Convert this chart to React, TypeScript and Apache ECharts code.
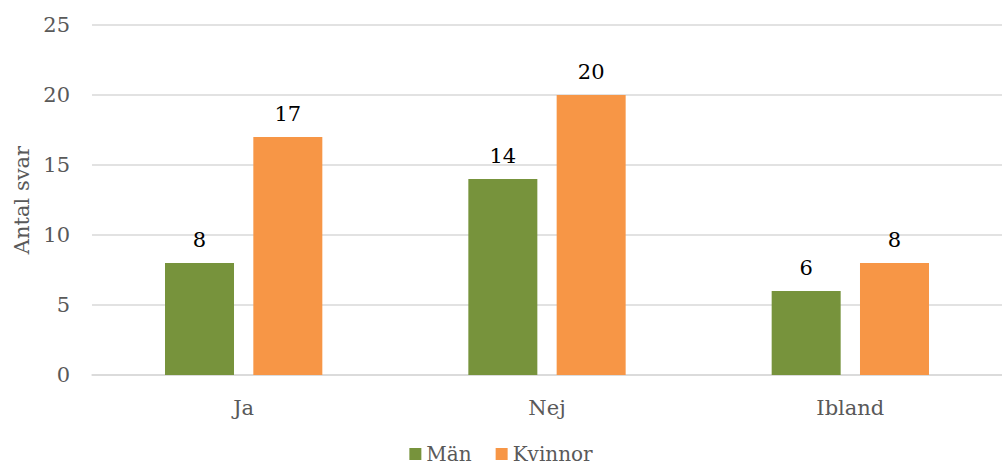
import React, { useEffect, useRef } from "react";
import * as echarts from "echarts";

const categories = ["Ja", "Nej", "Ibland"];
const manValues = [8, 14, 6];
const kvinnorValues = [17, 20, 8];
const seriesNames = ["Män", "Kvinnor"];
const yAxisName = "Antal svar";

const FONT = "DejaVu Serif";

export default function App() {
  const ref = useRef<HTMLDivElement>(null);
  useEffect(() => {
    document.body.style.margin = "0";
    const chart = echarts.init(ref.current!, null, { renderer: "svg" });
    const labelStyle = {
      show: true,
      position: "top" as const,
      distance: 13,
      color: "#000000",
      fontFamily: FONT,
      fontSize: 21,
    };
    chart.setOption({
      animation: false,
      backgroundColor: "#ffffff",
      textStyle: { fontFamily: FONT },
      grid: { left: 92, top: 25, right: -11, bottom: 90, containLabel: false },
      legend: {
        data: seriesNames,
        top: 439,
        left: "center",
        itemWidth: 12,
        itemHeight: 12,
        itemGap: 24,
        icon: "rect",
        textStyle: { color: "#595959", fontFamily: FONT, fontSize: 20 },
      },
      xAxis: {
        type: "category",
        data: categories,
        axisLine: { show: true, lineStyle: { color: "#d9d9d9", width: 1.5 } },
        axisTick: { show: false },
        axisLabel: { color: "#595959", fontFamily: FONT, fontSize: 21, margin: 22 },
      },
      yAxis: {
        type: "value",
        min: 0,
        max: 25,
        interval: 5,
        name: yAxisName,
        nameLocation: "middle",
        nameGap: 60,
        nameTextStyle: { color: "#595959", fontFamily: FONT, fontSize: 21 },
        axisLine: { show: false },
        axisTick: { show: false },
        axisLabel: { color: "#595959", fontFamily: FONT, fontSize: 21, margin: 22 },
        splitLine: { lineStyle: { color: "#d9d9d9", width: 1.5 } },
      },
      series: [
        {
          name: seriesNames[0],
          type: "bar",
          data: manValues,
          barWidth: 69,
          barGap: "28%",
          itemStyle: { color: "#77933C" },
          label: labelStyle,
        },
        {
          name: seriesNames[1],
          type: "bar",
          data: kvinnorValues,
          barWidth: 69,
          barGap: "28%",
          itemStyle: { color: "#F79646" },
          label: labelStyle,
        },
      ],
    });
    return () => chart.dispose();
  }, []);
  return <div ref={ref} style={{ width: 1002, height: 465 }} />;
}
